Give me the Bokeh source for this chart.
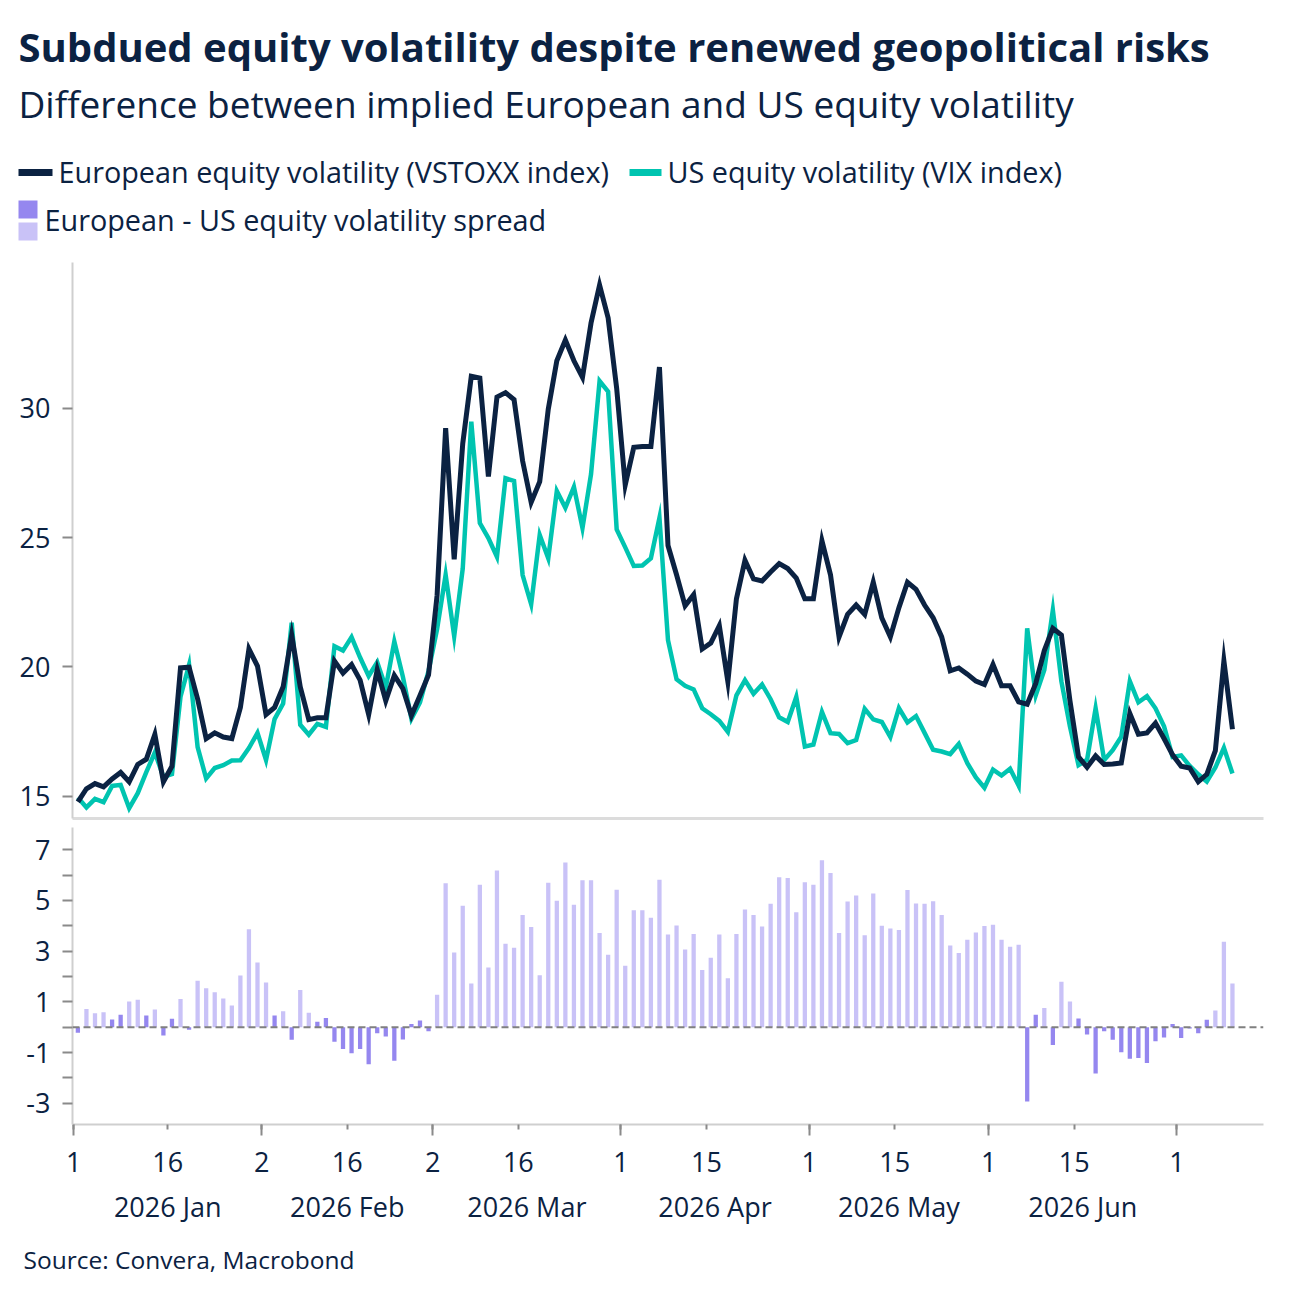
import pandas as pd
from bokeh.plotting import figure
from bokeh.layouts import column
from bokeh.models import Range1d, FixedTicker, LinearAxis, Span
from bokeh.core.properties import value
from bokeh.embed import file_html
from bokeh.resources import INLINE

# ---------------- data (business days from 2026-01-01) ----------------
start_date = "2026-01-01"

vstoxx = [
    14.78, 15.29, 15.49, 15.36, 15.67, 15.92, 15.56, 16.23, 16.43, 17.39,
    15.56, 16.16, 19.96, 19.99, 18.76, 17.23, 17.45, 17.29, 17.23, 18.43,
    20.69, 20.03, 18.16, 18.43, 19.23, 21.23, 19.23, 17.96, 18.03, 18.03,
    20.23, 19.76, 20.09, 19.49, 18.16, 19.89, 18.69, 19.67, 19.16, 18.12,
    18.89, 19.69, 22.76, 29.23, 24.16, 28.63, 31.23, 31.16, 27.36, 30.43,
    30.60, 30.33, 27.96, 26.36, 27.16, 29.96, 31.83, 32.63, 31.83, 31.19,
    33.29, 34.76, 33.49, 30.76, 27.03, 28.49, 28.52, 28.52, 31.59, 24.69,
    23.56, 22.36, 22.79, 20.69, 20.92, 21.59, 19.43, 22.63, 24.12, 23.40,
    23.32, 23.67, 23.99, 23.80, 23.43, 22.63, 22.63, 24.87, 23.56, 21.16,
    22.03, 22.39, 22.03, 23.27, 21.89, 21.16, 22.29, 23.27, 23.00, 22.39,
    21.90, 21.16, 19.85, 19.96, 19.72, 19.45, 19.32, 20.09, 19.27, 19.27,
    18.65, 18.56, 19.36, 20.63, 21.49, 21.23, 18.69, 16.52, 16.12, 16.56,
    16.23, 16.25, 16.29, 18.20, 17.40, 17.45, 17.83, 17.23, 16.60, 16.16,
    16.09, 15.56, 15.85, 16.76, 20.23, 17.59,
]

vix = [
    14.95, 14.57, 14.90, 14.77, 15.40, 15.44, 14.54, 15.12, 15.93, 16.69,
    15.75, 15.86, 18.85, 20.08, 16.90, 15.69, 16.09, 16.20, 16.38, 16.39,
    16.86, 17.45, 16.40, 17.98, 18.58, 21.71, 17.76, 17.38, 17.80, 17.68,
    20.80, 20.63, 21.15, 20.36, 19.65, 20.18, 19.20, 20.98, 19.62, 17.99,
    18.63, 19.84, 21.46, 23.56, 21.19, 23.80, 29.48, 25.56, 24.98, 24.25,
    27.29, 27.19, 23.55, 22.42, 25.10, 24.20, 26.80, 26.15, 26.96, 25.37,
    27.45, 31.05, 30.64, 25.31, 24.62, 23.90, 23.92, 24.20, 25.76, 21.03,
    19.52, 19.27, 19.13, 18.40, 18.17, 17.91, 17.49, 18.90, 19.49, 18.96,
    19.32, 18.75, 18.05, 17.87, 18.84, 16.92, 17.00, 18.26, 17.44, 17.41,
    17.05, 17.17, 18.38, 17.97, 17.87, 17.29, 18.41, 17.85, 18.10, 17.45,
    16.80, 16.73, 16.63, 17.02, 16.28, 15.73, 15.33, 16.03, 15.80, 16.06,
    15.41, 21.49, 18.90, 19.88, 22.20, 19.44, 17.69, 16.20, 16.41, 18.40,
    16.40, 16.78, 17.30, 19.45, 18.63, 18.87, 18.40, 17.70, 16.52, 16.58,
    16.17, 15.85, 15.57, 16.11, 16.87, 15.88,
]

spread = [
    -0.22, 0.72, 0.55, 0.59, 0.30, 0.49, 1.01, 1.08, 0.46, 0.70,
    -0.33, 0.33, 1.11, -0.10, 1.83, 1.54, 1.38, 1.13, 0.86, 2.04,
    3.86, 2.55, 1.76, 0.46, 0.63, -0.50, 1.47, 0.57, 0.21, 0.36,
    -0.57, -0.86, -1.03, -0.86, -1.46, -0.24, -0.37, -1.32, -0.49, 0.13,
    0.26, -0.16, 1.28, 5.68, 2.95, 4.79, 1.72, 5.62, 2.36, 6.18,
    3.29, 3.13, 4.43, 3.95, 2.05, 5.70, 4.99, 6.50, 4.83, 5.80,
    5.80, 3.72, 2.86, 5.42, 2.42, 4.61, 4.61, 4.32, 5.82, 3.66,
    4.01, 3.07, 3.68, 2.26, 2.74, 3.66, 1.93, 3.68, 4.64, 4.43,
    3.97, 4.87, 5.92, 5.89, 4.54, 5.72, 5.62, 6.59, 6.08, 3.72,
    4.96, 5.20, 3.63, 5.28, 4.00, 3.89, 3.84, 5.41, 4.88, 4.87,
    4.97, 4.43, 3.22, 2.93, 3.45, 3.74, 3.99, 4.04, 3.45, 3.17,
    3.25, -2.93, 0.49, 0.76, -0.70, 1.79, 1.01, 0.34, -0.29, -1.83,
    -0.16, -0.50, -0.99, -1.25, -1.22, -1.41, -0.55, -0.41, 0.13, -0.43,
    -0.05, -0.24, 0.29, 0.66, 3.37, 1.72,
]

day_tick_dates = ["2026-01-01", "2026-01-16", "2026-02-02", "2026-02-16",
                  "2026-03-02", "2026-03-16", "2026-04-01", "2026-04-15",
                  "2026-05-01", "2026-05-15", "2026-06-01", "2026-06-15",
                  "2026-07-01"]
month_labels = ["2026 Jan", "2026 Feb", "2026 Mar", "2026 Apr", "2026 May", "2026 Jun"]

title_text = "Subdued equity volatility despite renewed geopolitical risks"
subtitle_text = "Difference between implied European and US equity volatility"
legend_texts = ["European equity volatility (VSTOXX index)",
                "US equity volatility (VIX index)",
                "European - US equity volatility spread"]
source_text = "Source: Convera, Macrobond"

# ---------------- styling ----------------
FONT = "Open Sans"
NAVY = "#0b2242"
TEAL = "#00c4b0"
BAR_LIGHT = "#c9c2f7"
BAR_DARK = "#9587ef"
AXIS_GRAY = "#cfcfcf"
TICK_GRAY = "#8a8a8a"

dates = pd.bdate_range(start_date, periods=len(vstoxx))
pos = {d: i for i, d in enumerate(dates.strftime("%Y-%m-%d"))}
xs = [i + 0.5 for i in range(len(vstoxx))]


def k(v):
    return int(v) if float(v).is_integer() else v


tick_x = [pos[d] for d in day_tick_dates]
tick_labels = {k(t): str(pd.Timestamp(d).day) for t, d in zip(tick_x, day_tick_dates)}
month_start_x = [pos[d] for d in day_tick_dates if pd.Timestamp(d).day <= 3]
month_mid = [k((a + b) / 2) for a, b in zip(month_start_x[:-1], month_start_x[1:])]
month_over = {m: lbl for m, lbl in zip(month_mid, month_labels)}

x_range = Range1d(-0.13, 139.13)


def no_align(p):
    if "frame_align" in p.properties():
        p.frame_align = False


def canvas_fig(h):
    p = figure(width=1299, height=h, x_range=Range1d(0, 1299), y_range=Range1d(h, 0),
               toolbar_location=None, output_backend="svg",
               min_border_left=0, min_border_right=0, min_border_top=0, min_border_bottom=0,
               outline_line_color=None, x_axis_location=None, y_axis_location=None)
    p.title.visible = False
    p.grid.visible = False
    no_align(p)
    return p


# ---------------- header ----------------
hdr = canvas_fig(250)
hdr.text(x=[18], y=[46], text=[title_text], text_font=value(FONT), text_font_style="bold",
         text_font_size="40px", text_color=NAVY, text_baseline="alphabetic", text_align="left")
hdr.text(x=[18], y=[103], text=[subtitle_text], text_font=value(FONT),
         text_font_size="37px", text_color=NAVY, text_baseline="alphabetic", text_align="left")
hdr.segment(x0=[18, 629], y0=[172, 172], x1=[52, 661], y1=[172, 172],
            line_color=[NAVY, TEAL], line_width=7, line_cap="butt")
hdr.text(x=[58, 667], y=[171, 171], text=legend_texts[:2], text_font=value(FONT),
         text_font_size="28.8px", text_color=NAVY, text_baseline="alphabetic", text_align="left")
hdr.quad(left=[18, 18], right=[37, 37], top=[200, 222], bottom=[218, 240],
         fill_color=[BAR_DARK, BAR_LIGHT], line_color=None)
hdr.text(x=[44], y=[219], text=[legend_texts[2]], text_font=value(FONT),
         text_font_size="28.8px", text_color=NAVY, text_baseline="alphabetic", text_align="left")

# ---------------- top panel ----------------
top = figure(width=1299, height=575, x_range=x_range, y_range=Range1d(14.14, 35.63),
             toolbar_location=None, output_backend="svg",
             min_border_left=72, min_border_right=36, min_border_top=12, min_border_bottom=7,
             outline_line_color=None, x_axis_location=None, y_axis_location=None)
top.title.visible = False
top.grid.visible = False
yax = LinearAxis(ticker=FixedTicker(ticks=[15, 20, 25, 30]),
                 axis_line_color=AXIS_GRAY, axis_line_width=2,
                 major_tick_line_color=TICK_GRAY, major_tick_line_width=2,
                 major_tick_out=10, major_tick_in=0, minor_tick_line_color=None,
                 major_label_text_font=FONT, major_label_text_font_size="27px",
                 major_label_text_color=NAVY, major_label_standoff=12)
top.add_layout(yax, "left")
bx = LinearAxis(ticker=FixedTicker(ticks=[]), axis_line_color="#dcdcdc", axis_line_width=3,
                major_tick_line_color=None, minor_tick_line_color=None,
                major_label_text_font_size="0px", major_label_standoff=0)
top.add_layout(bx, "below")
top.line(xs, vix, line_color=TEAL, line_width=4.5, line_join="miter")
top.line(xs, vstoxx, line_color=NAVY, line_width=5, line_join="miter")

# ---------------- bottom panel ----------------
bot = figure(width=1299, height=410, x_range=x_range, y_range=Range1d(-3.84, 7.88),
             toolbar_location=None, output_backend="svg",
             min_border_left=72, min_border_right=36, min_border_top=2, min_border_bottom=111,
             outline_line_color=None, x_axis_location=None, y_axis_location=None)
bot.title.visible = False
bot.grid.visible = False
bar_colors = [BAR_DARK if v < 0.5 else BAR_LIGHT for v in spread]
bot.vbar(x=xs, top=spread, bottom=0, width=0.5, fill_color=bar_colors, line_color=None)
bot.add_layout(Span(location=0, dimension="width", line_color="#808080",
                    line_width=2, line_dash="7 4"))
lax = LinearAxis(ticker=FixedTicker(ticks=[-3, -1, 1, 3, 5, 7], minor_ticks=[-2, 0, 2, 4, 6]),
                 major_label_overrides={-3: "-3", -1: "-1"},
                 axis_line_color=AXIS_GRAY, axis_line_width=2,
                 major_tick_line_color=TICK_GRAY, major_tick_line_width=2,
                 minor_tick_line_color=TICK_GRAY, minor_tick_line_width=2,
                 major_tick_out=10, major_tick_in=0, minor_tick_out=10, minor_tick_in=0,
                 major_label_text_font=FONT, major_label_text_font_size="27px",
                 major_label_text_color=NAVY, major_label_standoff=12)
bot.add_layout(lax, "left")
dax = LinearAxis(ticker=FixedTicker(ticks=tick_x, minor_ticks=month_start_x),
                 major_label_overrides=tick_labels,
                 axis_line_color=AXIS_GRAY, axis_line_width=2,
                 major_tick_line_color=TICK_GRAY, major_tick_line_width=2,
                 minor_tick_line_color=TICK_GRAY, minor_tick_line_width=2,
                 major_tick_out=5, major_tick_in=0, minor_tick_out=11, minor_tick_in=0,
                 major_label_text_font=FONT, major_label_text_font_size="27px",
                 major_label_text_color=NAVY, major_label_standoff=16)
bot.add_layout(dax, "below")
max_ = LinearAxis(ticker=FixedTicker(ticks=month_mid), major_label_overrides=month_over,
                  axis_line_color=None, major_tick_line_color=None, minor_tick_line_color=None,
                  major_tick_out=0, major_tick_in=0, minor_tick_out=0,
                  major_label_text_font=FONT, major_label_text_font_size="27px",
                  major_label_text_color=NAVY, major_label_standoff=13)
bot.add_layout(max_, "below")

# ---------------- footer ----------------
ftr = canvas_fig(67)
ftr.text(x=[23], y=[24], text=[source_text], text_font=value(FONT),
         text_font_size="24.5px", text_color=NAVY, text_baseline="alphabetic", text_align="left")

layout = column(hdr, column(top, bot, spacing=0), ftr, spacing=0)
open("out.html", "w").write(file_html(layout, INLINE))
